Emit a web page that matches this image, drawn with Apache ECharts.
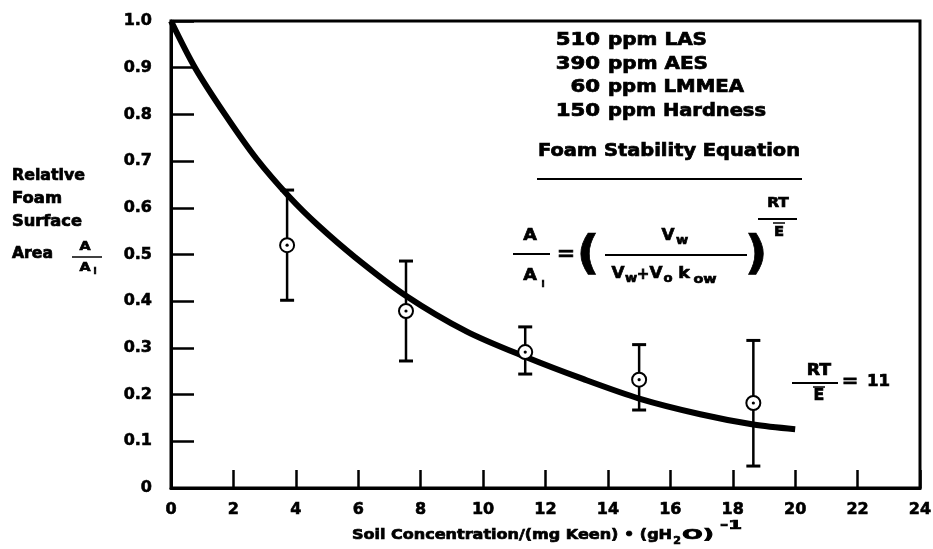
<!DOCTYPE html>
<html>
<head>
<meta charset="utf-8">
<script src="https://cdn.jsdelivr.net/npm/echarts@6/dist/echarts.min.js"></script>
<style>html,body{margin:0;padding:0;background:#fff}#c{width:933px;height:549px}</style>
</head>
<body>
<div id="c"></div>
<script>
// ---- data ----
const xTickLabels = ['0','2','4','6','8','10','12','14','16','18','20','22','24'];
const yTickLabels = ['0','0.1','0.2','0.3','0.4','0.5','0.6','0.7','0.8','0.9','1.0'];
// fitted foam stability curve (RT/E = 11)
const curveX = [0, 0.77, 1.73, 2.74, 3.81, 4.72, 5.9, 7.5, 9.48, 11.35, 13.22, 15.03, 16.96, 18.66, 20.0];
const curveY = [1.0, 0.90, 0.80, 0.705, 0.622, 0.562, 0.494, 0.413, 0.335, 0.281, 0.233, 0.191, 0.158, 0.136, 0.126];
// measured points with error bars
const pointX = [3.72, 7.53, 11.35, 15.0, 18.66];
const pointY = [0.52, 0.379, 0.291, 0.232, 0.182];
const errLow = [0.402, 0.272, 0.244, 0.167, 0.047];
const errHigh = [0.638, 0.486, 0.345, 0.307, 0.316];
const conditions = [['510','ppm LAS'],['390','ppm AES'],['60','ppm LMMEA'],['150','ppm Hardness']];

const FONT = '"DejaVu Sans", sans-serif';
const ctx = document.createElement('canvas').getContext('2d');
function tw(text, size){ ctx.font = 'bold ' + size + 'px ' + FONT; return ctx.measureText(text).width; }
function txt(text, x, y, size, align, sx){
  return {type:'text', x:x, y:y, scaleX: sx || 1, z:10,
    style:{text:text, font:'bold ' + size + 'px ' + FONT, fill:'#000', stroke:'#000', lineWidth:0.7,
      textAlign: align || 'left', textVerticalAlign:'middle'}};
}
function fit(text, left, right, cy, size){
  const sx = (right - left) / tw(text, size);
  return txt(text, left, cy, size, 'left', sx);
}
function ln(x1, y1, x2, y2, w){
  return {type:'line', z:10, shape:{x1:x1,y1:y1,x2:x2,y2:y2}, style:{stroke:'#000', lineWidth:w || 2}};
}

const graphics = [];
// conditions block
const condY = [41, 65, 88, 112];
const condRight = [707, 708, 744, 766];
conditions.forEach((c, i) => {
  graphics.push(txt(c[0], 600, condY[i], 17, 'right', 1.25));
  graphics.push(fit(c[1], 608, condRight[i], condY[i], 17));
});
graphics.push(fit('Foam Stability Equation', 538, 800, 152, 17));
graphics.push(ln(537, 179, 802, 179, 2));

// equation A/Ai = ( Vw / (Vw + Vo kow) )^(RT/E)
graphics.push(txt('A', 530, 236, 16, 'center', 1.1));
graphics.push(ln(513, 254, 550, 254, 2));
graphics.push(txt('A', 530, 276, 16, 'center', 1.1));
graphics.push(txt('i', 543, 285, 9, 'center'));
graphics.push(txt('=', 566, 255, 20, 'center', 1.1));
graphics.push(txt('(', 588, 256, 46, 'center', 1.1));
graphics.push(txt('V', 668, 236, 16, 'center', 1.05));
graphics.push(txt('w', 682, 241, 12, 'center', 1.1));
graphics.push(ln(605, 255, 747, 255, 2));
graphics.push(txt('V', 618, 274, 16, 'center', 1.05));
graphics.push(txt('w', 631, 279, 12, 'center', 1.1));
graphics.push(txt('+', 643, 275, 15, 'center'));
graphics.push(txt('V', 656, 274, 16, 'center', 1.05));
graphics.push(txt('o', 668, 279, 12, 'center', 1.1));
graphics.push(txt('k', 684, 274, 16, 'center', 1.1));
graphics.push(txt('ow', 705, 280, 12, 'center', 1.2));
graphics.push(txt(')', 756, 256, 46, 'center', 1.1));
graphics.push(txt('RT', 778, 203, 14, 'center', 1.1));
graphics.push(ln(758, 219, 797, 219, 2));
graphics.push(ln(773, 223, 785, 223, 1.5));
graphics.push(txt('E', 779, 232, 14, 'center', 1.05));

// RT/E = 11
graphics.push(txt('RT', 819, 371, 15, 'center', 1.15));
graphics.push(ln(792, 383, 838, 383, 2));
graphics.push(ln(813, 387, 825, 387, 1.5));
graphics.push(txt('E', 819, 396, 15, 'center', 1.05));
graphics.push(txt('=', 850, 382, 18, 'center', 1.1));
graphics.push(fit('11', 867, 890, 382, 16));

// y axis title
graphics.push(fit('Relative', 12, 85, 176, 15));
graphics.push(fit('Foam', 12, 62, 199, 15));
graphics.push(fit('Surface', 12, 82, 222, 15));
graphics.push(fit('Area', 12, 53, 254, 15));
graphics.push(txt('A', 85, 247, 13, 'center', 1.1));
graphics.push(ln(72, 257, 102, 257, 1.5));
graphics.push(txt('A', 85, 268, 13, 'center', 1.1));
graphics.push(txt('i', 95, 272, 9, 'center'));

// x axis title
const titleMain = 'Soil Concentration/(mg Keen) \u2022 (gH';
graphics.push(fit(titleMain, 352, 672, 535, 14));
graphics.push(txt('2', 677, 541, 10, 'center', 1.1));
graphics.push(fit('O)', 682, 714, 535, 14));
graphics.push(fit('-1', 720, 742, 526, 12));

const chart = echarts.init(document.getElementById('c'), null, {renderer:'canvas'});
const axisFont = {fontFamily: FONT, fontWeight:'bold', fontSize:16, color:'#000', textBorderColor:'#000', textBorderWidth:0.6};
chart.setOption({
  animation:false,
  backgroundColor:'#fff',
  grid:{left:171, right:13, top:21, bottom:61, show:true, borderColor:'#000', borderWidth:3, outerBoundsMode:'none'},
  xAxis:{type:'value', min:0, max:24, interval:2,
    axisLine:{show:true, lineStyle:{color:'#000', width:3}},
    axisTick:{show:true, inside:true, length:18, lineStyle:{color:'#000', width:2.5}},
    splitLine:{show:false},
    axisLabel:Object.assign({margin:14, formatter:(v)=>xTickLabels[Math.round(v/2)]}, axisFont)
  },
  yAxis:{type:'value', min:0, max:1, interval:0.1,
    axisLine:{show:true, lineStyle:{color:'#000', width:3}},
    axisTick:{show:true, inside:true, length:23, lineStyle:{color:'#000', width:2.5}},
    splitLine:{show:false},
    axisLabel:Object.assign({margin:19, formatter:(v)=>yTickLabels[Math.round(v*10)]}, axisFont)
  },
  series:[
    {type:'line', data: curveX.map((x,i)=>[x, curveY[i]]), smooth:0.3, showSymbol:false, symbol:'none',
      lineStyle:{color:'#000', width:6}, z:2},
    {type:'custom', z:3, clip:false,
      data: pointX.map((x,i)=>[x, pointY[i], errLow[i], errHigh[i]]),
      encode:{x:0, y:1},
      renderItem:function(params, api){
        const x = api.value(0);
        const p = api.coord([x, api.value(1)]);
        const pl = api.coord([x, api.value(2)]);
        const ph = api.coord([x, api.value(3)]);
        const cw = 7;
        const st = {stroke:'#000', lineWidth:2.5};
        return {type:'group', children:[
          {type:'line', shape:{x1:p[0], y1:pl[1], x2:p[0], y2:ph[1]}, style:st},
          {type:'line', shape:{x1:p[0]-cw, y1:ph[1], x2:p[0]+cw, y2:ph[1]}, style:{stroke:'#000', lineWidth:3}},
          {type:'line', shape:{x1:p[0]-cw, y1:pl[1], x2:p[0]+cw, y2:pl[1]}, style:{stroke:'#000', lineWidth:3}},
          {type:'circle', shape:{cx:p[0], cy:p[1], r:7}, style:{fill:'#fff', stroke:'#000', lineWidth:2}},
          {type:'circle', shape:{cx:p[0], cy:p[1], r:1.6}, style:{fill:'#000'}}
        ]};
      }
    }
  ],
  graphic: graphics
});
</script>
</body>
</html>
